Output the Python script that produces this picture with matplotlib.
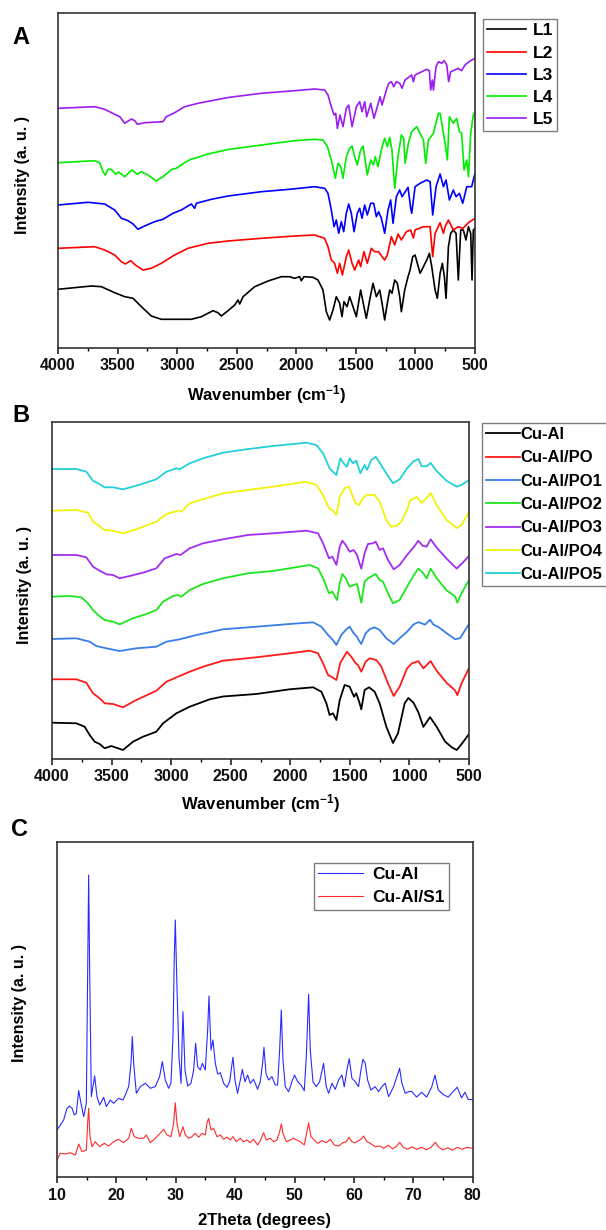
import matplotlib
matplotlib.use("Agg")
import matplotlib.pyplot as plt
from matplotlib.ticker import MultipleLocator, NullLocator

plt.rcParams['font.family'] = ['Liberation Sans', 'DejaVu Sans']
plt.rcParams['font.weight'] = 'bold'
plt.rcParams['mathtext.fontset'] = 'custom'
plt.rcParams['mathtext.rm'] = 'Liberation Sans:bold'
plt.rcParams['mathtext.bf'] = 'Liberation Sans:bold'
plt.rcParams['mathtext.default'] = 'bf'

# ---------------- Panel A : FTIR of ligands (wavenumber, intensity a.u.) ----------------
A_labels = ["L1", "L2", "L3", "L4", "L5"]
A_colors = ["#000000", "#ff0000", "#0000ff", "#00ee00", "#9b1df2"]

L1 = [(4000, 58.7), (3720, 62), (3636, 61.3), (3524, 55.3), (3440, 51.3), (3370, 49.7), (3300, 41.3),
      (3217, 32), (3133, 28.7), (2881, 28.7), (2797, 31.3), (2699, 37.3), (2657, 35.3), (2629, 32),
      (2573, 37.3), (2517, 43), (2489, 48), (2475, 44), (2447, 51.3), (2349, 61.3), (2237, 67),
      (2125, 71.3), (2056, 71.3), (2014, 69.7), (1972, 71.3), (1958, 67.3), (1935, 71.3), (1860, 70.7),
      (1818, 68), (1776, 58), (1748, 36.3), (1720, 28), (1692, 38), (1664, 51.3), (1636, 44.7),
      (1616, 31.3), (1600, 46.3), (1574, 41.3), (1552, 51.3), (1524, 41.3), (1496, 31.3), (1460, 58),
      (1432, 41.3), (1412, 29.7), (1384, 48), (1356, 64.7), (1328, 51.3), (1300, 58), (1280, 44.7),
      (1258, 28), (1236, 44.7), (1216, 58), (1197, 54.7), (1174, 68), (1152, 64.7), (1132, 51.3),
      (1118, 36.3), (1090, 58), (1062, 71.3), (1045, 78), (1023, 91.3), (1003, 93), (984, 84.7),
      (961, 74.7), (933, 81.3), (905, 88), (883, 94.7), (863, 81.3), (835, 58), (816, 49.7),
      (793, 74.7), (774, 84.7), (757, 71.3), (743, 49.7), (723, 101.3), (704, 114.7), (682, 118),
      (659, 114.7), (640, 68), (620, 118), (598, 118), (576, 108), (555, 121.3), (536, 114.7),
      (525, 68), (514, 118), (500, 119.7)]

L2 = [(4000, 99.7), (3692, 101.3), (3608, 98), (3524, 93), (3468, 86.3), (3435, 84), (3390, 87.3),
      (3351, 83), (3287, 78), (3217, 79.7), (3133, 84.7), (3021, 93), (2909, 99.7), (2741, 104.7),
      (2573, 107), (2293, 109.7), (2014, 112), (1846, 113), (1762, 109.7), (1734, 101.3), (1706, 88),
      (1678, 84.7), (1655, 74.7), (1636, 84.7), (1613, 73), (1580, 91.3), (1560, 98), (1532, 84.7),
      (1510, 78), (1476, 88), (1460, 81.3), (1432, 96.3), (1404, 84.7), (1370, 99.7), (1342, 96.3),
      (1309, 96.3), (1280, 91.3), (1258, 88), (1236, 93), (1202, 111.3), (1174, 103), (1146, 114),
      (1118, 108), (1076, 116.3), (1040, 118), (1017, 110), (1003, 118), (933, 121.3), (877, 121.3),
      (855, 91.3), (835, 114.7), (793, 125.3), (765, 114.7), (751, 121.3), (723, 128), (682, 118),
      (640, 121.3), (601, 119.7), (555, 125.3), (500, 129.7)]

L3 = [(4000, 143), (3748, 145.7), (3608, 144), (3524, 138), (3468, 129.7), (3412, 127.3), (3370, 124),
      (3329, 118.7), (3273, 122), (3189, 126.3), (3119, 128.7), (3035, 134.7), (2965, 138),
      (2881, 144), (2853, 139.7), (2839, 144.7), (2713, 148.7), (2573, 152), (2293, 156.3),
      (2056, 158.7), (1846, 161.3), (1762, 159.7), (1734, 154.7), (1706, 138), (1683, 121.3),
      (1664, 128), (1644, 114.7), (1622, 126.3), (1602, 116.3), (1580, 134.7), (1560, 144),
      (1538, 134.7), (1515, 116.3), (1488, 134.7), (1468, 139.7), (1448, 129.7), (1426, 143),
      (1404, 133), (1375, 144.7), (1350, 144.7), (1328, 131.3), (1309, 136.3), (1286, 129.7),
      (1258, 114.7), (1230, 138), (1208, 148), (1188, 124.7), (1160, 151.3), (1132, 158),
      (1112, 151.3), (1062, 160.7), (1040, 140), (1031, 134.7), (1003, 161.3), (961, 164.7),
      (905, 168), (877, 166.3), (855, 133), (827, 161.3), (793, 174), (765, 161.3), (743, 168),
      (715, 148), (682, 158), (659, 151.3), (631, 154.7), (603, 144.7), (569, 161.3), (528, 161.3),
      (500, 174.7)]

L4 = [(4000, 185.3), (3692, 187.3), (3650, 185.3), (3622, 176.3), (3603, 173), (3580, 178.7),
      (3552, 178.7), (3516, 173.7), (3491, 176), (3440, 171.3), (3379, 178), (3334, 173.7),
      (3300, 176.3), (3245, 173), (3175, 167), (3119, 171.3), (3043, 178.7), (3007, 179.7),
      (2937, 185.3), (2886, 188.7), (2853, 189.7), (2741, 194), (2573, 198.5), (2293, 203),
      (2014, 207.3), (1846, 208.7), (1776, 208), (1739, 201.3), (1706, 188), (1672, 169.7),
      (1650, 184.7), (1627, 181.3), (1608, 169.7), (1580, 191.3), (1552, 199.7), (1532, 202),
      (1510, 191.3), (1488, 183), (1460, 198), (1440, 202), (1426, 191.3), (1404, 173), (1375, 188),
      (1353, 183), (1337, 191.3), (1314, 181.3), (1280, 201.3), (1258, 209.7), (1236, 201.3),
      (1216, 210.7), (1197, 198), (1174, 159.7), (1146, 191.3), (1118, 213), (1099, 209.7),
      (1087, 184.7), (1059, 204.7), (1031, 216.3), (989, 221.3), (933, 208), (914, 184.7),
      (891, 208), (849, 214.7), (807, 234.7), (793, 234.7), (765, 214.7), (751, 204.7), (732, 188),
      (715, 231.3), (682, 224.7), (654, 229.7), (631, 216.3), (612, 214.7), (592, 178), (569, 188),
      (555, 171.3), (536, 214.7), (514, 233), (500, 236.3)]

L5 = [(4000, 239.7), (3692, 241.3), (3608, 238.7), (3524, 233.7), (3482, 231.3), (3440, 224.7),
      (3384, 229), (3356, 227.3), (3334, 223.7), (3273, 225.3), (3119, 226.3), (3091, 231.3),
      (3021, 235.3), (2937, 241.3), (2825, 244.7), (2573, 250.5), (2293, 254.7), (2014, 257.3),
      (1846, 259), (1762, 258), (1734, 253), (1706, 241.3), (1683, 233), (1669, 234.7), (1655, 219.7),
      (1633, 233), (1608, 221.3), (1580, 239.7), (1560, 243), (1532, 221.3), (1496, 241.3),
      (1468, 246.3), (1448, 236.3), (1426, 246.3), (1409, 231.3), (1375, 244.7), (1348, 229.7),
      (1320, 241.3), (1297, 251.3), (1280, 243), (1244, 258), (1224, 264.7), (1202, 266.3),
      (1182, 261.3), (1160, 266.3), (1132, 264.7), (1112, 259.7), (1087, 268), (1031, 273),
      (1017, 266.3), (1003, 273), (905, 278.7), (883, 277.3), (872, 258), (858, 268), (849, 258),
      (827, 281.3), (807, 286.3), (779, 284.7), (760, 287.3), (737, 283), (721, 266.3), (704, 276.3),
      (668, 278), (640, 279.7), (612, 277.3), (584, 283), (542, 287), (500, 289.7)]

# ---------------- Panel B : FTIR of Cu-Al LDH samples ----------------
B_labels = ["Cu-Al", "Cu-Al/PO", "Cu-Al/PO1", "Cu-Al/PO2", "Cu-Al/PO3", "Cu-Al/PO4", "Cu-Al/PO5"]
B_colors = ["#000000", "#ff1a1a", "#3a7de8", "#1ee61e", "#a22ef2", "#f2f20a", "#22d0d8"]

CuAl = [(4000, 36.3), (3796, 35.7), (3726, 32.3), (3684, 24), (3642, 17.3), (3600, 15), (3558, 10.7),
        (3502, 13), (3404, 9), (3320, 17.3), (3236, 22.3), (3124, 27.3), (3068, 35.7), (2956, 45.7),
        (2844, 52.3), (2676, 59.7), (2565, 62.5), (2285, 65), (2005, 69.7), (1809, 71.7), (1739, 67.3),
        (1697, 55.7), (1670, 44), (1642, 45.7), (1613, 39), (1585, 59), (1544, 74), (1502, 72.3),
        (1465, 62.3), (1446, 65.7), (1418, 55.7), (1404, 49.7), (1376, 69), (1339, 71.7), (1292, 67.3),
        (1250, 55.7), (1194, 32.3), (1138, 16), (1096, 25.7), (1040, 55.7), (1009, 61), (967, 56.5),
        (925, 46.7), (883, 32.1), (827, 41.9), (771, 32.1), (701, 17.5), (645, 11.7), (603, 9),
        (561, 15.1), (500, 25)]

CuAl_PO = [(4000, 79.7), (3796, 79.7), (3712, 76.3), (3656, 65.7), (3600, 60.7), (3558, 55.7),
           (3488, 55), (3404, 51.7), (3292, 59), (3124, 68.3), (3040, 77.3), (2942, 82.3), (2844, 87.3),
           (2732, 92.3), (2565, 98.3), (2285, 101.7), (2005, 105.7), (1837, 108.3), (1767, 105.7),
           (1725, 95.7), (1683, 84), (1647, 81.7), (1613, 79), (1580, 96.3), (1524, 107.3),
           (1488, 102.3), (1451, 95.7), (1432, 94), (1404, 87.3), (1367, 97.3), (1334, 100.7),
           (1278, 99), (1236, 92.3), (1180, 75.7), (1132, 63), (1082, 72.3), (1020, 90.7), (981, 95.5),
           (925, 97.9), (883, 90.6), (822, 97.9), (771, 88.1), (687, 76), (617, 68.7), (598, 63.8),
           (561, 76), (500, 91)]

CuAl_PO1 = [(4000, 120), (3796, 120.7), (3684, 117.3), (3628, 113), (3544, 110.7), (3432, 108),
            (3292, 110.7), (3124, 112.3), (3040, 117.3), (2928, 119.7), (2788, 124), (2565, 129.7),
            (2285, 132.3), (2005, 135), (1809, 136.7), (1739, 132.3), (1683, 124), (1642, 119),
            (1613, 114), (1572, 124), (1535, 129), (1502, 132.3), (1468, 125.7), (1440, 122.3),
            (1426, 119), (1404, 115), (1367, 125.7), (1334, 129.7), (1292, 131.7), (1250, 129),
            (1194, 120.7), (1132, 115), (1082, 120.7), (1020, 127.3), (967, 134.4), (925, 136.9),
            (869, 134.4), (827, 139.3), (799, 134.4), (757, 132), (687, 125.7), (617, 119.8),
            (575, 120.8), (500, 135)]

CuAl_PO2 = [(4000, 162.3), (3852, 163), (3754, 161.7), (3698, 155.7), (3656, 149), (3614, 144),
            (3558, 139), (3488, 137.3), (3432, 134.7), (3320, 140.7), (3208, 145), (3124, 149),
            (3068, 157.3), (2984, 163), (2942, 164), (2914, 162.3), (2844, 169), (2732, 175),
            (2565, 180.7), (2355, 185.7), (2145, 188), (1837, 194), (1767, 190.7), (1725, 180.7),
            (1675, 165.7), (1647, 167.3), (1608, 159), (1585, 175.7), (1563, 185), (1535, 180.7),
            (1502, 172.3), (1468, 174), (1440, 175), (1404, 156.3), (1376, 177.3), (1348, 180.7),
            (1283, 185), (1250, 179), (1222, 177.3), (1180, 165.7), (1138, 155.7), (1082, 159),
            (1020, 172.3), (967, 183.1), (925, 190.4), (883, 185.6), (855, 180.7), (822, 190.4),
            (771, 180.7), (687, 168.5), (617, 162.7), (598, 156.3), (561, 166.1), (500, 179)]

CuAl_PO3 = [(4000, 204), (3796, 204), (3712, 201.7), (3656, 192.3), (3600, 188.3), (3544, 184.7),
            (3488, 184), (3432, 180.7), (3348, 183), (3236, 186.3), (3124, 190.7), (3054, 200.7),
            (2956, 205), (2922, 204), (2844, 210.7), (2732, 215.7), (2565, 219.7), (2355, 224),
            (2145, 225.7), (1865, 228.3), (1767, 225.7), (1725, 215.7), (1675, 200.7), (1647, 202.3),
            (1613, 194), (1585, 212.3), (1563, 218.3), (1535, 214), (1502, 207.3), (1468, 209),
            (1440, 204), (1404, 190.3), (1376, 205.7), (1348, 215), (1306, 215.7), (1283, 217.3),
            (1250, 209), (1222, 210.7), (1180, 199), (1132, 189.7), (1082, 194), (1020, 204),
            (967, 211.4), (925, 218.2), (889, 213.3), (855, 212.4), (822, 219.7), (771, 211.4),
            (687, 200.2), (603, 190.4), (561, 195.3), (500, 203)]

CuAl_PO4 = [(4000, 248.3), (3796, 249), (3698, 246.3), (3656, 237.3), (3614, 234), (3558, 229),
            (3488, 228.3), (3404, 225.7), (3292, 229.7), (3124, 237.3), (3040, 245), (2942, 248.3),
            (2914, 247.3), (2844, 255.7), (2732, 259.7), (2565, 265.7), (2355, 269), (2145, 272.3),
            (1865, 277.3), (1781, 274), (1725, 264), (1675, 250.7), (1647, 249), (1613, 244),
            (1585, 262.3), (1544, 270.7), (1507, 272.3), (1474, 262.3), (1451, 255.7), (1423, 254),
            (1390, 260.7), (1362, 264), (1292, 264), (1250, 257.3), (1194, 239), (1152, 232.3),
            (1110, 233), (1068, 237.3), (1020, 249), (995, 258.6), (939, 262), (897, 256.2),
            (855, 261.1), (822, 265.9), (771, 253.8), (687, 239.1), (603, 230.9), (561, 234.3),
            (500, 247)]

CuAl_PO5 = [(4000, 290), (3796, 290), (3712, 287.3), (3656, 278.3), (3614, 275.7), (3558, 271.7),
            (3488, 271.7), (3404, 269.7), (3292, 273.3), (3124, 279.7), (3040, 287.3), (2956, 290.7),
            (2928, 289.7), (2844, 295.7), (2732, 300.7), (2565, 306.3), (2369, 309.7), (2145, 313),
            (1865, 316.3), (1781, 314), (1725, 305.7), (1670, 290.7), (1642, 287.3), (1613, 284),
            (1580, 300.7), (1552, 295.7), (1524, 292.3), (1502, 300.7), (1474, 295.7), (1446, 298.3),
            (1412, 285.7), (1376, 294), (1356, 289), (1320, 299), (1283, 302.3), (1250, 296.3),
            (1194, 285.7), (1138, 275.7), (1082, 279.7), (1020, 290.7), (967, 297.6), (925, 300),
            (897, 292.7), (855, 292.7), (822, 296.1), (771, 287.9), (687, 278.1), (603, 272.3),
            (561, 274.2), (500, 279)]

# ---------------- Panel C : XRD (2theta, intensity a.u.) ----------------
C_labels = ["Cu-Al", "Cu-Al/S1"]
C_colors = ["#2a2aff", "#ff2a2a"]

XRD_CuAl = [(10.0, 47.3), (10.56, 52.3), (11.12, 57.3), (11.68, 69), (12.13, 71.3), (12.53, 69),
            (12.92, 62.3), (13.25, 64), (13.65, 86.7), (14.04, 74), (14.49, 60.7), (14.94, 74),
            (15.16, 207.3), (15.33, 302.3), (15.5, 207.3), (15.78, 80.7), (16.34, 101.3), (16.73, 80.7),
            (17.18, 72.3), (17.86, 80), (18.3, 70.7), (18.98, 77.3), (19.54, 74), (20.38, 79),
            (21.11, 77.3), (21.5, 82.3), (22.07, 90.7), (22.46, 114), (22.68, 140.7), (22.91, 114),
            (23.36, 84), (24.03, 90.7), (24.87, 94), (25.71, 89), (26.55, 90.7), (27.28, 100.7),
            (27.73, 115.7), (28.24, 97.3), (28.8, 89), (29.19, 94), (29.53, 140.7), (29.75, 220.6),
            (29.92, 257.3), (30.2, 190.6), (30.54, 120.6), (30.88, 94), (31.21, 165.6), (31.55, 107.3),
            (32.0, 91.3), (32.56, 94), (33.01, 107.3), (33.35, 134), (33.68, 110.6), (34.13, 107.3),
            (34.47, 114), (34.97, 107.3), (35.37, 147.3), (35.59, 181.3), (35.93, 127.3), (36.26, 137.3),
            (36.66, 114), (37.05, 103.3), (37.5, 104.6), (38.06, 94), (38.62, 90), (39.07, 95.6),
            (39.4, 110.6), (39.63, 120), (39.97, 97.3), (40.4, 84), (40.87, 97.3), (41.2, 108),
            (41.65, 95.6), (42.1, 102.3), (42.55, 94), (43.1, 98), (43.78, 88), (44.23, 95.6),
            (44.62, 114), (44.85, 130), (45.19, 104), (45.63, 97.3), (46.2, 100.6), (46.76, 92.3),
            (47.15, 92.3), (47.49, 127.3), (47.77, 167.3), (48.05, 117.3), (48.44, 90.6), (49.0, 85.6),
            (49.56, 95.6), (50.0, 102.3), (50.52, 95.6), (51.08, 92.3), (51.64, 86.6), (51.98, 120.6),
            (52.37, 183), (52.65, 127.3), (53.1, 95.6), (53.66, 90.6), (54.22, 95.6), (54.89, 114),
            (55.34, 90.6), (55.74, 84), (56.3, 94), (56.86, 88), (57.42, 97.3), (57.98, 102.3),
            (58.37, 90.6), (58.82, 107.3), (59.21, 118.6), (59.66, 99), (60.22, 95.6), (60.78, 90.6),
            (61.18, 107.3), (61.52, 118), (61.91, 114), (62.3, 97.3), (62.86, 87.3), (63.59, 90.6),
            (64.15, 85.6), (64.71, 90.6), (65.27, 94), (65.84, 80.6), (66.68, 90.6), (67.24, 100.6),
            (67.69, 109), (68.08, 94), (68.64, 84), (69.2, 85.6), (69.71, 86), (70.55, 80.2),
            (71.4, 85.1), (72.24, 80.2), (73.08, 90), (73.64, 102.2), (74.2, 87.5), (75.04, 82.7),
            (75.88, 80.2), (76.73, 86), (77.4, 90), (78.13, 79.3), (78.69, 85.1), (79.25, 77.8),
            (80.0, 77.8)]

XRD_CuAl_S1 = [(10.0, 17.3), (10.56, 24), (11.4, 23.3), (12.25, 24.6), (13.09, 22.3), (13.65, 33.3),
               (14.21, 25.6), (14.94, 27.3), (15.16, 54), (15.33, 69), (15.56, 40.6), (15.89, 30.6),
               (16.45, 35.6), (17.18, 30.6), (17.97, 34), (18.7, 31.3), (19.54, 35.6), (20.38, 38),
               (21.22, 34.6), (22.07, 39), (22.51, 49), (23.02, 40.6), (23.75, 39), (24.59, 39),
               (25.04, 42.3), (25.71, 34.6), (26.55, 39), (27.4, 44.3), (27.96, 48), (28.52, 42.3),
               (29.19, 40.6), (29.64, 54), (29.92, 74.6), (30.2, 54), (30.65, 40.6), (31.21, 50.6),
               (31.61, 42.3), (32.17, 39), (32.73, 40.6), (33.29, 44), (33.85, 40), (34.41, 44),
               (34.97, 42.3), (35.25, 54), (35.53, 59), (35.93, 47.3), (36.38, 49), (36.94, 40.6),
               (37.5, 42.3), (38.06, 38), (38.62, 40), (39.18, 37.3), (39.63, 40.6), (40.19, 35.6),
               (40.87, 39), (41.43, 35.6), (41.99, 37.3), (42.55, 34.6), (43.1, 38), (43.78, 32.3),
               (44.23, 36.6), (44.79, 44.6), (45.24, 37.3), (45.92, 39), (46.48, 35.6), (47.04, 37.3),
               (47.49, 45.6), (47.77, 53.3), (48.05, 44), (48.61, 35.6), (49.28, 37.3), (49.84, 39),
               (50.4, 37.3), (50.96, 35.6), (51.64, 32.3), (52.09, 45.6), (52.37, 54.6), (52.76, 40.6),
               (53.32, 37.3), (53.88, 34), (54.61, 36.6), (55.34, 34.6), (56.02, 38), (56.69, 32.3),
               (57.42, 31.3), (58.15, 34.6), (58.71, 35.6), (59.16, 40), (59.66, 35.6), (60.22, 34.6),
               (60.78, 36.6), (61.35, 39), (61.63, 41.3), (62.19, 35.6), (62.75, 34), (63.59, 30.6),
               (64.43, 31.3), (65.0, 29), (65.8, 32), (66.5, 28.5), (67.2, 31), (67.7, 35), (68.3, 30),
               (69.0, 28), (69.8, 30.5), (70.6, 28), (71.4, 30), (72.2, 27.5), (73.0, 30), (73.7, 35),
               (74.3, 30), (75.0, 27.5), (75.8, 29.5), (76.6, 27), (77.4, 30), (78.2, 28), (79.0, 30),
               (80.0, 29)]

A_series = [L1, L2, L3, L4, L5]
B_series = [CuAl, CuAl_PO, CuAl_PO1, CuAl_PO2, CuAl_PO3, CuAl_PO4, CuAl_PO5]
C_series = [XRD_CuAl, XRD_CuAl_S1]

W, H = 606, 1230
fig = plt.figure(figsize=(W / 100, H / 100), dpi=100)


def fbox(l, t, r, b):
    return [l / W, 1 - b / H, (r - l) / W, (b - t) / H]


def style_axis(ax, major, minor):
    for s in ax.spines.values():
        s.set_linewidth(1.2)
        s.set_color("#333333")
    ax.xaxis.set_major_locator(MultipleLocator(major))
    ax.xaxis.set_minor_locator(MultipleLocator(minor))
    ax.yaxis.set_major_locator(NullLocator())
    ax.tick_params(axis="x", which="major", direction="out", length=4, width=1.1,
                   pad=3.5, labelsize=11.5, colors="#111111")
    ax.tick_params(axis="x", which="minor", direction="out", length=2.5, width=1.0)
    ax.tick_params(axis="x", top=False)


def legend_at(ax, l, t, fs, hl, htp, ls, lw_frame=1.0):
    leg = ax.legend(loc="upper left", bbox_to_anchor=(l / W, 1 - t / H),
                    bbox_transform=fig.transFigure, borderaxespad=0,
                    prop=dict(weight="bold", size=fs), handlelength=hl,
                    handletextpad=htp, labelspacing=ls, borderpad=0.25,
                    fancybox=False, framealpha=1, edgecolor="#7f7f7f")
    leg.get_frame().set_linewidth(lw_frame)
    return leg


XLAB_IR = "Wavenumber (cm$^{-1}$)"

# ---- Panel A ----
axA = fig.add_axes(fbox(58, 13.3, 475, 348))
for ser, lab, col in zip(A_series, A_labels, A_colors):
    axA.plot([p[0] for p in ser], [p[1] for p in ser], color=col, lw=1.2, label=lab)
axA.set_xlim(4000, 500)
axA.set_ylim(0, 334.7)
style_axis(axA, 500, 250)
axA.set_xlabel(XLAB_IR, fontsize=12, fontweight="bold")
axA.xaxis.label.set_va("center")
axA.xaxis.set_label_coords(0.5, (348 - 395) / 334.7)
axA.set_ylabel("Intensity (a. u. )", fontsize=11.5, fontweight="bold")
axA.yaxis.label.set_va("center")
axA.yaxis.set_label_coords((22 - 58) / 417, 0.517)
legend_at(axA, 483, 19, 12.5, 2.2, 0.4, 0.4)
fig.text(21 / W, 1 - 37 / H, "A", fontsize=17, fontweight="bold", ha="center", va="center")

# ---- Panel B ----
axB = fig.add_axes(fbox(52, 422, 469, 759))
for ser, lab, col in zip(B_series, B_labels, B_colors):
    axB.plot([p[0] for p in ser], [p[1] for p in ser], color=col, lw=1.3, label=lab)
axB.set_xlim(4000, 500)
axB.set_ylim(0, 337)
style_axis(axB, 500, 250)
axB.set_xlabel(XLAB_IR, fontsize=12, fontweight="bold")
axB.xaxis.label.set_va("center")
axB.xaxis.set_label_coords(0.5, (759 - 804) / 337)
axB.set_ylabel("Intensity (a. u. )", fontsize=11.5, fontweight="bold")
axB.yaxis.label.set_va("center")
axB.yaxis.set_label_coords((25 - 52) / 417, 0.516)
legend_at(axB, 482, 423, 12, 2.0, 0.08, 0.5)
fig.text(21 / W, 1 - 415 / H, "B", fontsize=17, fontweight="bold", ha="center", va="center")

# ---- Panel C ----
axC = fig.add_axes(fbox(57, 842, 472.7, 1177.3))
for ser, lab, col in zip(C_series, C_labels, C_colors):
    axC.plot([p[0] for p in ser], [p[1] for p in ser], color=col, lw=0.8, label=lab)
axC.set_xlim(10, 80)
axC.set_ylim(0, 335.3)
style_axis(axC, 10, 5)
axC.set_xlabel("2Theta (degrees)", fontsize=12, fontweight="bold")
axC.xaxis.label.set_va("center")
axC.xaxis.set_label_coords(0.5, (1177.3 - 1221) / 335.3)
axC.set_ylabel("Intensity (a. u. )", fontsize=11.5, fontweight="bold")
axC.yaxis.label.set_va("center")
axC.yaxis.set_label_coords((20 - 57) / 415.7, 0.52)
legend_at(axC, 314, 863, 12.5, 2.6, 0.5, 0.45)
fig.text(20 / W, 1 - 830 / H, "C", fontsize=17, fontweight="bold", ha="center", va="center")

fig.savefig("out.png", dpi=100)
